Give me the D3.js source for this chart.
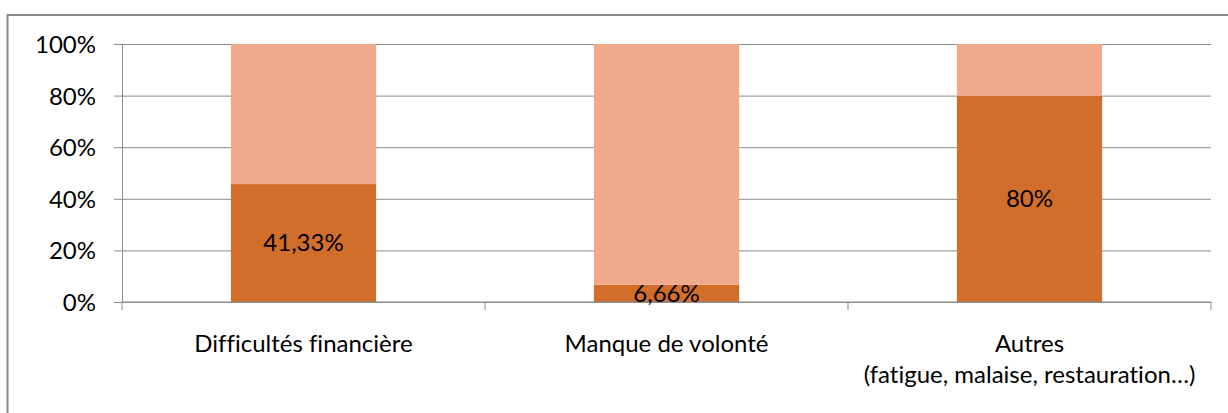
<!DOCTYPE html>
<html>
<head>
    <meta charset="utf-8">
    <title>Raisons - barres empilées 100%</title>
    <style>
        html, body { margin: 0; padding: 0; background: white; }
        svg { display: block; }
        text { font-family: Lato, "Open Sans", sans-serif; fill: #000; font-variant-ligatures: none; }
    </style>
</head>
<body>
<script src="https://cdn.jsdelivr.net/npm/d3@7"></script>
<script>
    // Données du graphique
    var categories = ["Difficultés financière", "Manque de volonté", "Autres\n(fatigue, malaise, restauration…)"];
    var serieFoncee = [45.7, 6.66, 80];      // part basse (orange foncé)
    var serieClaire = [54.3, 93.34, 20];     // reste jusqu'à 100%
    var etiquettes = ["41,33%", "6,66%", "80%"];
    var ticksY = [0, 0.2, 0.4, 0.6, 0.8, 1];

    var width = 1228, height = 413;
    var marge = {haut: 44, droite: 17, bas: 111, gauche: 122};
    var taille = "24px";

    var svg = d3.select("body").append("svg")
        .attr("width", width)
        .attr("height", height);

    // cadre extérieur
    svg.append("rect")
        .attr("x", 7.5).attr("y", 15)
        .attr("width", width).attr("height", height)
        .attr("fill", "none")
        .attr("stroke", "#8a8a8a")
        .attr("stroke-width", 2);

    var x = d3.scaleBand()
        .domain(categories)
        .range([marge.gauche, width - marge.droite])
        .padding(0);

    var y = d3.scaleLinear()
        .domain([0, 1])
        .range([height - marge.bas, marge.haut]);

    // données empilées normalisées
    var table = categories.map(function(c, i) {
        return {cat: c, fonce: serieFoncee[i], clair: serieClaire[i], label: etiquettes[i]};
    });
    var pile = d3.stack()
        .keys(["fonce", "clair"])
        .offset(d3.stackOffsetExpand)(table);
    var couleurs = {fonce: "#d26e2a", clair: "#f0a98b"};

    // grille horizontale
    svg.append("g")
        .attr("transform", "translate(" + marge.gauche + ",0)")
        .call(d3.axisLeft(y).tickValues(ticksY)
            .tickSize(-(width - marge.droite - marge.gauche))
            .tickFormat(""))
        .call(function(g) {
            g.select(".domain").remove();
            g.selectAll("line").attr("stroke", "#8c8c8c").attr("stroke-width", 1);
        });

    // barres
    var largeur = x.bandwidth() * 0.4;
    svg.selectAll("g.serie")
        .data(pile)
        .enter().append("g")
        .attr("class", "serie")
        .attr("fill", function(d) { return couleurs[d.key]; })
        .selectAll("rect")
        .data(function(d) { return d; })
        .enter().append("rect")
        .attr("x", function(d) { return x(d.data.cat) + (x.bandwidth() - largeur) / 2; })
        .attr("width", largeur)
        .attr("y", function(d) { return y(d[1]); })
        .attr("height", function(d) { return y(d[0]) - y(d[1]); });

    // axe Y
    var axeY = svg.append("g")
        .attr("transform", "translate(" + marge.gauche + ",0)")
        .call(d3.axisLeft(y).tickValues(ticksY)
            .tickSize(8).tickPadding(18)
            .tickFormat(d3.format(".0%")));
    axeY.select(".domain").attr("stroke", "#8c8c8c");
    axeY.selectAll("line").attr("stroke", "#8c8c8c");
    axeY.selectAll("text").style("font-size", taille).attr("dy", "0.35em");

    // axe X
    var axeX = svg.append("g")
        .attr("transform", "translate(0," + y(0) + ")");
    axeX.append("line")
        .attr("x1", marge.gauche).attr("x2", width - marge.droite)
        .attr("stroke", "#8c8c8c");
    var bornes = categories.map(function(c) { return x(c); }).concat([x.range()[1]]);
    axeX.selectAll("line.tick")
        .data(bornes)
        .enter().append("line")
        .attr("class", "tick")
        .attr("x1", function(d) { return d; })
        .attr("x2", function(d) { return d; })
        .attr("y1", 0).attr("y2", 8)
        .attr("stroke", "#8c8c8c");

    // libellés des catégories (sur une ou deux lignes)
    svg.selectAll("text.cat")
        .data(categories)
        .enter().append("text")
        .attr("class", "cat")
        .attr("text-anchor", "middle")
        .style("font-size", taille)
        .each(function(c) {
            var t = d3.select(this);
            c.split("\n").forEach(function(ligne, i) {
                t.append("tspan")
                    .attr("x", x(c) + x.bandwidth() / 2)
                    .attr("y", 352 + i * 31)
                    .text(ligne);
            });
        });

    // étiquettes de données au centre de la partie foncée
    svg.selectAll("text.val")
        .data(pile[0])
        .enter().append("text")
        .attr("class", "val")
        .attr("text-anchor", "middle")
        .attr("dy", "0.35em")
        .style("font-size", taille)
        .attr("x", function(d) { return x(d.data.cat) + x.bandwidth() / 2; })
        .attr("y", function(d) { return (y(d[0]) + y(d[1])) / 2; })
        .text(function(d) { return d.data.label; });
</script>
</body>
</html>
